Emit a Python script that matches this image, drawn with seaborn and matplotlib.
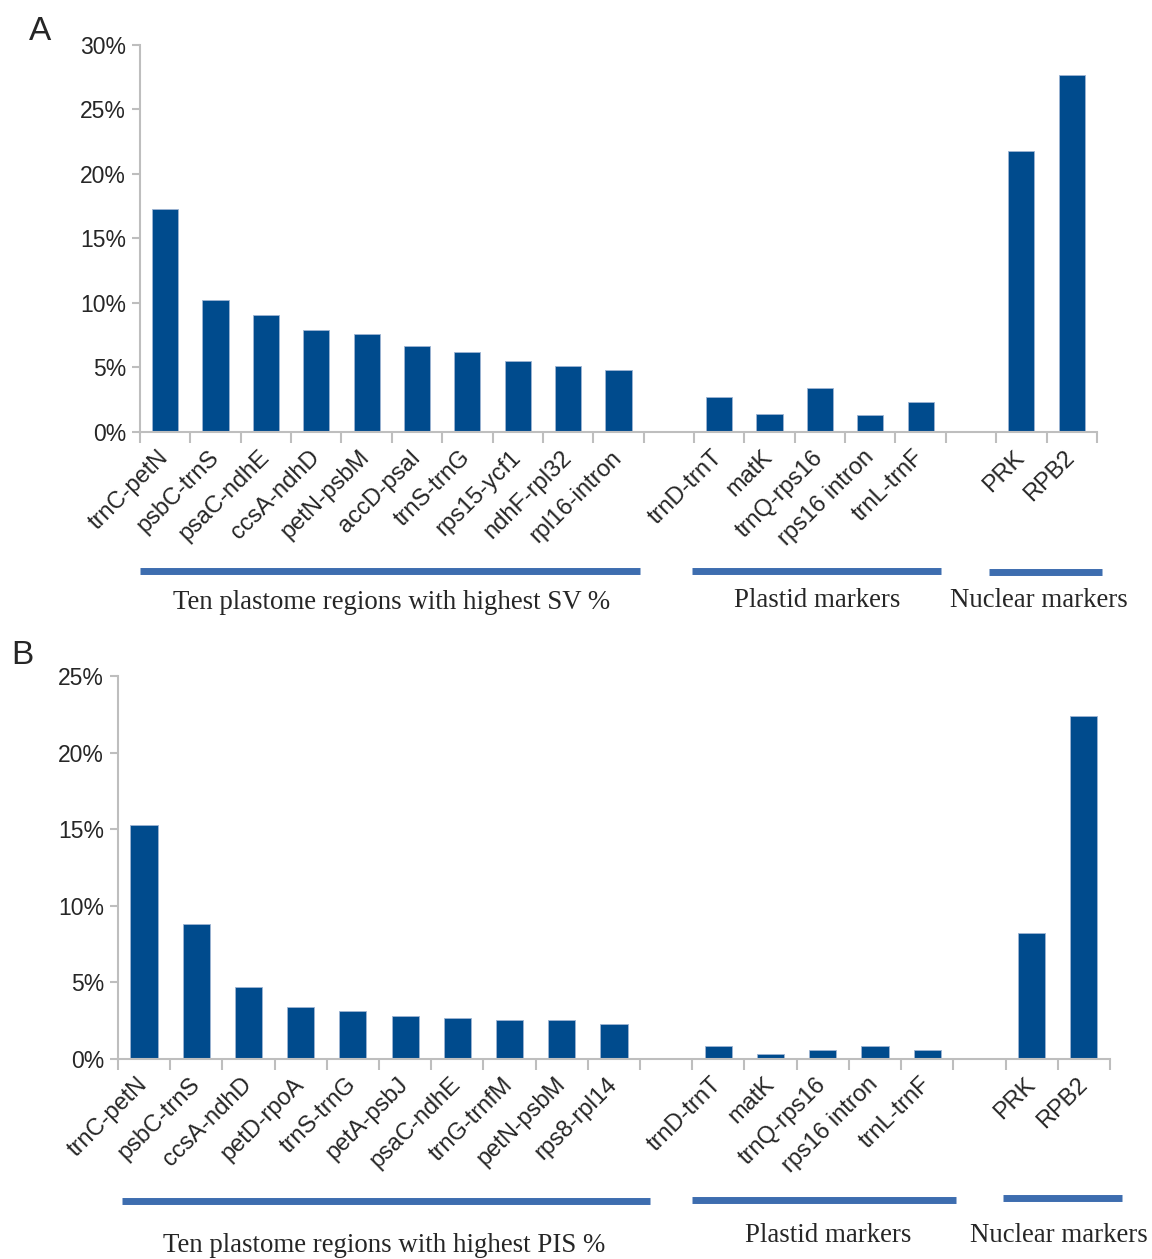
import numpy as np
import pandas as pd
import matplotlib
matplotlib.use("Agg")
import matplotlib.pyplot as plt
import matplotlib.transforms as mtransforms
from matplotlib.ticker import FuncFormatter
import seaborn as sns

# ---------------------------------------------------
# Data (values in %)
# ---------------------------------------------------
plastome_a = ["trnC-petN", "psbC-trnS", "psaC-ndhE", "ccsA-ndhD", "petN-psbM",
              "accD-psaI", "trnS-trnG", "rps15-ycf1", "ndhF-rpl32", "rpl16-intron"]
sv_plastome = [17.3, 10.2, 9.1, 7.9, 7.6, 6.7, 6.2, 5.5, 5.1, 4.8]

plastome_b = ["trnC-petN", "psbC-trnS", "ccsA-ndhD", "petD-rpoA", "trnS-trnG",
              "petA-psbJ", "psaC-ndhE", "trnG-trnfM", "petN-psbM", "rps8-rpl14"]
pis_plastome = [15.3, 8.8, 4.7, 3.4, 3.1, 2.8, 2.7, 2.55, 2.55, 2.3]

plastid = ["trnD-trnT", "matK", "trnQ-rps16", "rps16 intron", "trnL-trnF"]
sv_plastid = [2.7, 1.4, 3.4, 1.3, 2.3]
pis_plastid = [0.85, 0.35, 0.6, 0.85, 0.6]

nuclear = ["PRK", "RPB2"]
sv_nuclear = [21.8, 27.7]
pis_nuclear = [8.2, 22.4]

group_labels_a = ["Ten plastome regions with highest SV %", "Plastid markers", "Nuclear markers"]
group_labels_b = ["Ten plastome regions with highest PIS %", "Plastid markers", "Nuclear markers"]

BAR_COLOR = "#004B8D"
LINE_COLOR = "#3D6DAF"
AXIS_COLOR = "#BEBEBE"

sns.set_style("white")
plt.rcParams["font.family"] = ["Liberation Sans", "DejaVu Sans"]


def draw_panel(ax, plastome, v_plastome, v_plastid, v_nuclear, ymax, group_spans, labels, label_pos):
    gap1, gap2 = " ", "  "
    order = plastome + [gap1] + plastid + [gap2] + nuclear
    df = pd.DataFrame({
        "region": plastome + plastid + nuclear,
        "value": v_plastome + v_plastid + v_nuclear,
    })
    sns.barplot(data=df, x="region", y="value", order=order, color=BAR_COLOR,
                width=0.52, edgecolor="#9DB4D3", linewidth=0.6, saturation=1,
                ax=ax)

    n = len(order)
    ax.set_xlim(-0.5, n - 0.5)
    ax.set_ylim(0, ymax)
    ax.set_yticks(np.arange(0, ymax + 0.1, 5))
    ax.yaxis.set_major_formatter(FuncFormatter(lambda v, p: f"{v:.0f}%"))

    ax.set_xticks(range(n))
    ax.set_xticklabels([s.strip() for s in order], rotation=45, ha="right",
                       va="center", rotation_mode="anchor")
    # Beschriftung etwas nach rechts verschieben (wie im Original)
    shift = mtransforms.ScaledTranslation(7 / 72, 0, ax.figure.dpi_scale_trans)
    for lbl in ax.get_xticklabels():
        lbl.set_transform(lbl.get_transform() + shift)
    ax.set_xticks(np.arange(-0.5, n, 1), minor=True)
    ax.tick_params(axis="x", which="major", length=0, pad=16, labelsize=17)
    ax.tick_params(axis="x", which="minor", length=8, width=1.5, color=AXIS_COLOR,
                   direction="out", bottom=True)
    ax.tick_params(axis="y", length=6, width=1.5, color=AXIS_COLOR, direction="out",
                   labelsize=16.5, left=True, pad=4)
    ax.set_xlabel("")
    ax.set_ylabel("")

    sns.despine(ax=ax)
    for side in ["left", "bottom"]:
        ax.spines[side].set_color(AXIS_COLOR)
        ax.spines[side].set_linewidth(1.5)

    # Gruppenlinien und Beschriftungen unter der Achse
    trans = mtransforms.blended_transform_factory(ax.transData, ax.transAxes)
    for (x0, x1, yl), lab, (xt, yt) in zip(group_spans, labels, label_pos):
        ax.plot([x0, x1], [yl, yl], color=LINE_COLOR, lw=5, transform=trans,
                clip_on=False, solid_capstyle="butt")
        ax.text(xt, yt, lab, transform=trans, ha="center", va="center",
                fontsize=19.4, family=["Liberation Serif", "DejaVu Serif"])


fig = plt.figure(figsize=(11.52, 12.59), dpi=100)

# Panel A
ax_a = fig.add_axes([0.1215, 0.6569, 0.8307, 0.3074])
draw_panel(
    ax_a, plastome_a, sv_plastome, sv_plastid, sv_nuclear, 30,
    [(-0.5, 9.43, -0.359), (10.46, 15.4, -0.359), (16.35, 18.6, -0.362)],
    group_labels_a,
    [(4.5, -0.441), (12.95, -0.436), (17.35, -0.436)],
)

# Panel B
ax_b = fig.add_axes([0.1024, 0.1589, 0.8611, 0.3042])
draw_panel(
    ax_b, plastome_b, pis_plastome, pis_plastid, pis_nuclear, 25,
    [(-0.42, 9.69, -0.371), (10.5, 15.55, -0.368), (16.45, 18.73, -0.363)],
    group_labels_b,
    [(4.6, -0.488), (13.1, -0.462), (17.52, -0.462)],
)

fig.text(40 / 1152, 1 - 32 / 1259, "A", fontsize=24, ha="center", va="center")
fig.text(22 / 1152, 1 - 655 / 1259, "B", fontsize=24, ha="center", va="center")

fig.savefig("out.png", dpi=100)
